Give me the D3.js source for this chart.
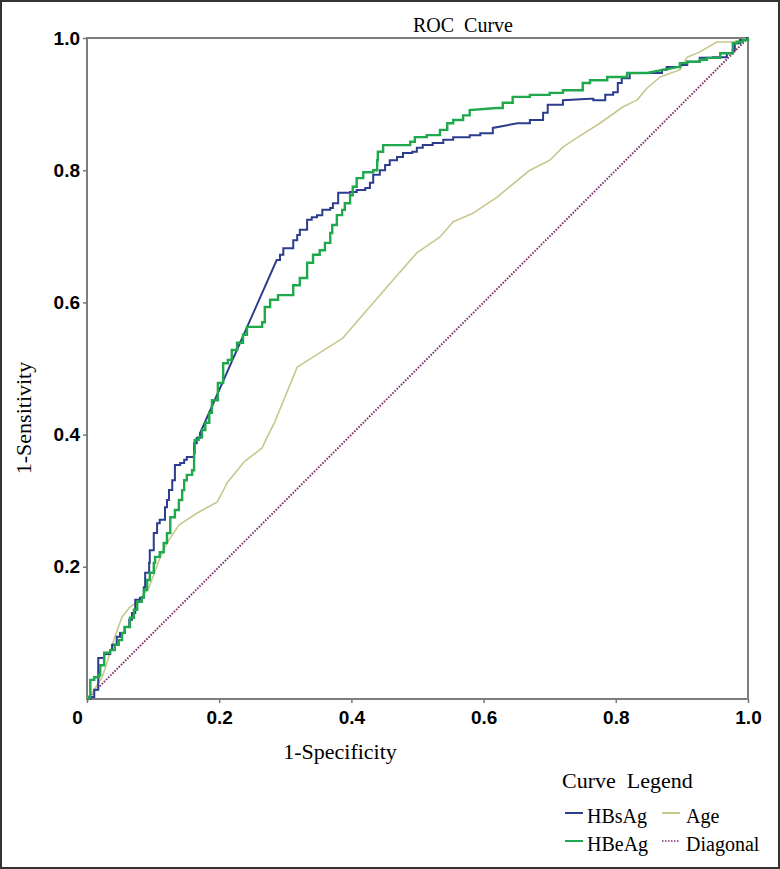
<!DOCTYPE html>
<html><head><meta charset="utf-8">
<script src="https://cdn.jsdelivr.net/npm/d3@7"></script>
<style>body{margin:0;background:#fff}</style></head>
<body><svg id="c" width="780" height="869"></svg>
<script>
const title = "ROC\u00a0\u00a0Curve";
const xLabel = "1-Specificity";
const yLabel = "1-Sensitivity";
const legendTitle = "Curve\u00a0\u00a0Legend";
const seriesNames = ["HBsAg", "HBeAg", "Age", "Diagonal"];
const xTicks = [0, 0.2, 0.4, 0.6, 0.8, 1.0];
const xTickLabels = ["0", "0.2", "0.4", "0.6", "0.8", "1.0"];
const yTicks = [0.2, 0.4, 0.6, 0.8, 1.0];
const yTickLabels = ["0.2", "0.4", "0.6", "0.8", "1.0"];

const hbsagFpr = [0,0.005,0.011,0.017,0.017,0.026,0.026,0.035,0.038,0.045,0.050,0.057,0.064,0.068,0.073,0.080,0.086,0.088,0.094,0.095,0.101,0.106,0.110,0.118,0.121,0.124,0.129,0.133,0.141,0.147,0.151,0.159,0.162,0.166,0.171,0.287,0.292,0.297,0.310,0.312,0.318,0.322,0.333,0.340,0.348,0.356,0.368,0.372,0.380,0.398,0.408,0.421,0.428,0.433,0.443,0.451,0.458,0.469,0.478,0.492,0.499,0.508,0.523,0.539,0.554,0.579,0.595,0.614,0.651,0.670,0.690,0.697,0.720,0.761,0.766,0.784,0.796,0.803,0.809,0.821,0.841,0.870,0.877,0.897,0.908,0.927,0.947,0.968,0.977,0.980,0.988,0.998,1];
const hbsagTpr = [0,0.003,0.014,0.018,0.062,0.062,0.068,0.074,0.082,0.094,0.100,0.109,0.120,0.130,0.150,0.153,0.169,0.191,0.206,0.225,0.251,0.266,0.271,0.290,0.301,0.316,0.331,0.354,0.357,0.362,0.366,0.366,0.387,0.395,0.402,0.664,0.672,0.682,0.682,0.694,0.702,0.710,0.725,0.729,0.732,0.740,0.743,0.750,0.766,0.767,0.770,0.773,0.781,0.793,0.800,0.808,0.815,0.820,0.826,0.828,0.834,0.838,0.841,0.846,0.850,0.853,0.856,0.864,0.871,0.876,0.887,0.899,0.906,0.908,0.906,0.914,0.918,0.932,0.939,0.947,0.947,0.952,0.956,0.959,0.964,0.970,0.971,0.977,0.982,0.992,0.997,1.0,1];

const hbeagFpr = [0,0.003,0.005,0.011,0.018,0.020,0.026,0.035,0.042,0.048,0.053,0.057,0.065,0.071,0.076,0.083,0.086,0.091,0.095,0.101,0.103,0.110,0.116,0.121,0.126,0.133,0.139,0.144,0.147,0.151,0.159,0.162,0.163,0.169,0.174,0.179,0.185,0.189,0.198,0.206,0.213,0.219,0.227,0.236,0.242,0.251,0.265,0.269,0.277,0.289,0.307,0.312,0.322,0.333,0.342,0.352,0.360,0.368,0.371,0.378,0.386,0.390,0.398,0.402,0.408,0.418,0.433,0.439,0.440,0.448,0.478,0.489,0.496,0.514,0.534,0.545,0.554,0.569,0.579,0.620,0.629,0.644,0.670,0.700,0.720,0.750,0.761,0.787,0.817,0.847,0.893,0.897,0.908,0.927,0.938,0.958,0.976,0.977,0.983,0.992,1];
const hbeagTpr = [0,0.003,0.029,0.033,0.036,0.051,0.070,0.074,0.082,0.089,0.100,0.109,0.123,0.135,0.147,0.154,0.165,0.180,0.191,0.206,0.215,0.222,0.236,0.251,0.275,0.286,0.301,0.316,0.331,0.339,0.346,0.372,0.392,0.396,0.407,0.418,0.433,0.452,0.478,0.508,0.513,0.528,0.539,0.551,0.563,0.563,0.570,0.593,0.604,0.611,0.611,0.626,0.637,0.660,0.672,0.679,0.690,0.705,0.717,0.732,0.740,0.750,0.762,0.775,0.788,0.797,0.800,0.815,0.828,0.838,0.838,0.843,0.850,0.853,0.861,0.871,0.876,0.883,0.891,0.894,0.902,0.911,0.914,0.917,0.921,0.932,0.936,0.941,0.947,0.947,0.956,0.962,0.964,0.967,0.970,0.977,0.977,0.992,0.994,0.997,1];

const ageFpr = [0,0.011,0.023,0.035,0.042,0.053,0.065,0.080,0.094,0.109,0.121,0.139,0.166,0.197,0.212,0.238,0.265,0.272,0.284,0.318,0.387,0.424,0.463,0.499,0.534,0.554,0.584,0.620,0.670,0.700,0.720,0.741,0.776,0.811,0.832,0.847,0.867,0.897,0.908,0.927,0.953,0.977,1];
const ageTpr = [0,0.014,0.033,0.070,0.094,0.124,0.139,0.150,0.169,0.210,0.236,0.263,0.281,0.298,0.327,0.359,0.380,0.395,0.419,0.502,0.546,0.589,0.634,0.675,0.699,0.722,0.735,0.759,0.800,0.815,0.835,0.849,0.871,0.896,0.906,0.924,0.941,0.952,0.971,0.979,0.994,0.994,1];

const diagFpr = [0, 1];
const diagTpr = [0, 1];

const colors = {HBsAg: "#2c3c8e", HBeAg: "#1fa84c", Age: "#c8c78e", Diagonal: "#7a2c6c"};

const svg = d3.select("#c");
const W = 780, H = 869;
const m = {left: 87, top: 38, right: 32, bottom: 170};
const pw = W - m.left - m.right, ph = H - m.top - m.bottom;

svg.append("rect").attr("x", 1).attr("y", 1).attr("width", W - 2).attr("height", H - 2)
  .attr("fill", "#fff").attr("stroke", "#333").attr("stroke-width", 2);

const x = d3.scaleLinear().domain([0, 1]).range([m.left, m.left + pw]);
const y = d3.scaleLinear().domain([0, 1]).range([m.top + ph, m.top]);

// axes
const xAxis = d3.axisBottom(x).tickValues(xTicks).tickFormat((d, i) => xTickLabels[i]).tickSize(4).tickSizeOuter(0).tickPadding(8);
const yAxis = d3.axisLeft(y).tickValues(yTicks).tickFormat((d, i) => yTickLabels[i]).tickSize(4).tickSizeOuter(0).tickPadding(3);
const gx = svg.append("g").attr("transform", `translate(0,${m.top + ph})`).call(xAxis);
const gy = svg.append("g").attr("transform", `translate(${m.left},0)`).call(yAxis);
[gx, gy].forEach(g => {
  g.select(".domain").remove();
  g.selectAll(".tick line").attr("stroke", "#777").attr("stroke-width", 1.5);
  g.selectAll(".tick text").attr("font-family", "Liberation Sans, Arial, sans-serif")
    .attr("font-weight", "bold").attr("font-size", 19).attr("fill", "#000");
});
gx.selectAll(".tick text").filter((d, i) => i === 0).attr("dx", -10);

// frame
svg.append("rect").attr("x", x(0)).attr("y", y(1)).attr("width", x(1) - x(0)).attr("height", y(0) - y(1))
  .attr("fill", "none").attr("stroke", "#7d7d7d").attr("stroke-width", 2);

// stepped path builder for empirical ROC series
function stepped(fpr, tpr) {
  const pts = [];
  for (let i = 0; i < fpr.length; i++) {
    if (i > 0) {
      const dx = fpr[i] - fpr[i - 1], dy = tpr[i] - tpr[i - 1];
      if (Math.abs(dx) < 0.035 && Math.abs(dy) < 0.045) pts.push([fpr[i], tpr[i - 1]]);
    }
    pts.push([fpr[i], tpr[i]]);
  }
  return pts;
}
const line = d3.line().x(d => x(d[0])).y(d => y(d[1]));
const zip = (a, b) => a.map((v, i) => [v, b[i]]);

svg.append("path").attr("d", line(zip(diagFpr, diagTpr))).attr("fill", "none")
  .attr("stroke", colors.Diagonal).attr("stroke-width", 2).attr("stroke-dasharray", "1.5,1.5");
svg.append("path").attr("d", line(zip(ageFpr, ageTpr))).attr("fill", "none")
  .attr("stroke", colors.Age).attr("stroke-width", 1.6).attr("stroke-linejoin", "round");
svg.append("path").attr("d", line(stepped(hbsagFpr, hbsagTpr))).attr("fill", "none")
  .attr("stroke", colors.HBsAg).attr("stroke-width", 2);
svg.append("path").attr("d", line(stepped(hbeagFpr, hbeagTpr))).attr("fill", "none")
  .attr("stroke", colors.HBeAg).attr("stroke-width", 2.4);

// titles
const serif = "Liberation Serif, Times New Roman, serif";
svg.append("text").attr("x", 463).attr("y", 32).attr("text-anchor", "middle")
  .attr("font-family", serif).attr("font-size", 20).text(title);
svg.append("text").attr("x", 340).attr("y", 759).attr("text-anchor", "middle")
  .attr("font-family", serif).attr("font-size", 22).text(xLabel);
svg.append("text").attr("transform", "translate(31,418) rotate(-90)").attr("text-anchor", "middle")
  .attr("font-family", serif).attr("font-size", 22).text(yLabel);

// legend
svg.append("text").attr("x", 562).attr("y", 788).attr("font-family", serif).attr("font-size", 22).text(legendTitle);
const legendItems = [
  {name: seriesNames[0], col: 0, row: 0},
  {name: seriesNames[2], col: 1, row: 0},
  {name: seriesNames[1], col: 0, row: 1},
  {name: seriesNames[3], col: 1, row: 1}
];
legendItems.forEach(it => {
  const lx = it.col === 0 ? 565 : 662;
  const ly = 813 + it.row * 28;
  const l = svg.append("line").attr("x1", lx).attr("x2", lx + 18).attr("y1", ly).attr("y2", ly)
    .attr("stroke", colors[it.name]).attr("stroke-width", it.name === "Diagonal" ? 1.5 : 2);
  if (it.name === "Diagonal") l.attr("stroke-dasharray", "1.5,1.5");
  svg.append("text").attr("x", lx + (it.col === 0 ? 22 : 24)).attr("y", ly + 10)
    .attr("font-family", serif).attr("font-size", 20).text(it.name);
});
</script>
</body></html>
